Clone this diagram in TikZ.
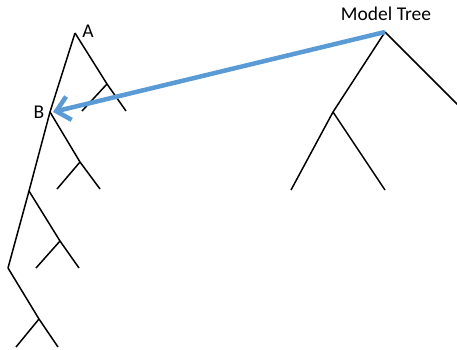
\documentclass[tikz,border=0pt]{standalone}
\usepackage{fontspec}
\setmainfont{Carlito}
\usetikzlibrary{arrows.meta}
\definecolor{skyblue}{HTML}{5B9BD5}

\begin{document}
\begin{tikzpicture}[
    x=1pt, y=-1pt,
    branch/.style={draw=black, line width=1.5pt},
    label/.style={font=\fontsize{19.5}{22}\selectfont, inner sep=0pt},
    copyarrow/.style={draw=skyblue, line width=4.5pt, -{Straight Barb[length=13pt, width=24pt, line width=4.5pt]}}
]
    \useasboundingbox (0,0) rectangle (457,349);

    % Left tree: points
    \coordinate (a)  at (75,33);
    \coordinate (a1) at (107,84);
    \coordinate (a2) at (126,111);
    \coordinate (a3) at (82,111);
    \coordinate (b)  at (50,112);
    \coordinate (b1) at (80,162);
    \coordinate (b2) at (100,189);
    \coordinate (b3) at (57,189);
    \coordinate (c)  at (29,191);
    \coordinate (c1) at (60,241);
    \coordinate (c2) at (79,268);
    \coordinate (c3) at (36,268);
    \coordinate (d)  at (8,268);
    \coordinate (d1) at (39,319);
    \coordinate (d2) at (58,347);
    \coordinate (d3) at (16,347);

    % Left tree: branches
    \draw[branch] (a) -- (b) -- (c) -- (d);
    \draw[branch] (a) -- (a1) -- (a2);
    \draw[branch] (a1) -- (a3);
    \draw[branch] (b) -- (b1) -- (b2);
    \draw[branch] (b1) -- (b3);
    \draw[branch] (c) -- (c1) -- (c2);
    \draw[branch] (c1) -- (c3);
    \draw[branch] (d) -- (d1) -- (d2);
    \draw[branch] (d1) -- (d3);

    \node[label] (labA) at (88,31) {A};
    \node[label] (labB) at (39,112) {B};

    % Model tree
    \coordinate (m)  at (385,32);
    \coordinate (m1) at (333,112);
    \coordinate (m2) at (291,190);
    \coordinate (m3) at (385,190);
    \coordinate (m4) at (460,107);
    \draw[branch] (m) -- (m1) -- (m2);
    \draw[branch] (m1) -- (m3);
    \draw[branch] (m) -- (m4);

    \node[label] (model) at (386,14) {Model Tree};

    % Copy arrow
    \draw[copyarrow] (m) -- ([xshift=3pt]b);

\end{tikzpicture}
\end{document}
